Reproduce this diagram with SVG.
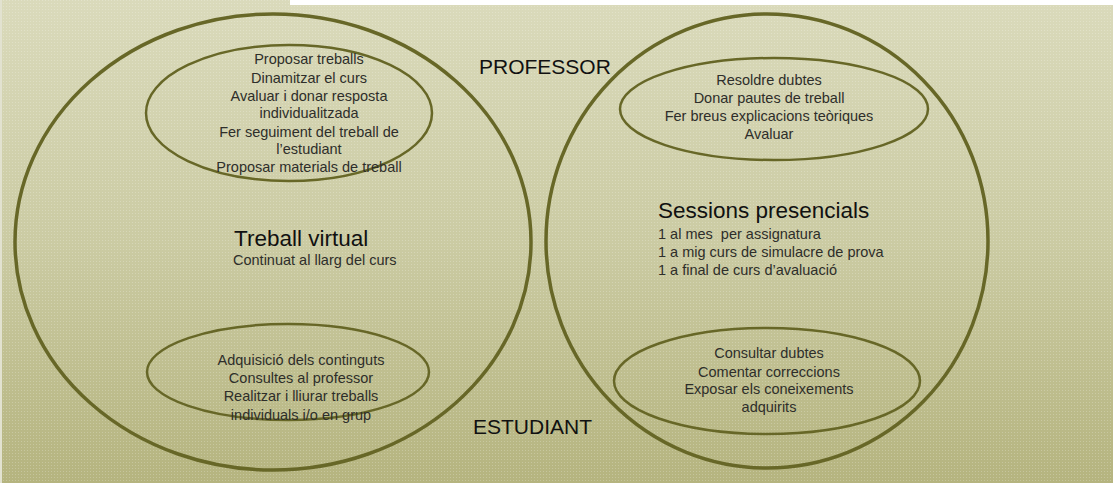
<svg xmlns="http://www.w3.org/2000/svg" width="1113" height="483" viewBox="0 0 1113 483">
<defs>
<linearGradient id="bg" x1="0" y1="0" x2="0" y2="1">
<stop offset="0" stop-color="#dadabb"/>
<stop offset="0.5" stop-color="#cbcba3"/>
<stop offset="1" stop-color="#b5b47f"/>
</linearGradient>
<pattern id="dots" width="3" height="3" patternUnits="userSpaceOnUse">
<rect x="0" y="0" width="1" height="1" fill="#ffffff" fill-opacity="0.22"/>
</pattern>
<style>
.outer{fill:none;stroke:#676727;stroke-width:3.5}
.inner{fill:none;stroke:#676727;stroke-width:2.5}
.li{font-family:"Liberation Sans",Arial,sans-serif;font-size:14.5px;fill:#2e2e2a;text-anchor:middle}
.ll{font-family:"Liberation Sans",Arial,sans-serif;font-size:14.5px;fill:#2e2e2a;white-space:pre}
.title{font-family:"Liberation Sans",Arial,sans-serif;font-size:22.5px;fill:#111111}
.role{font-family:"Liberation Sans",Arial,sans-serif;font-size:21px;fill:#111111}
</style>
</defs>
<rect x="0" y="0" width="1113" height="483" fill="url(#bg)"/>
<rect x="0" y="0" width="1113" height="483" fill="url(#dots)"/>
<rect x="290" y="0" width="823" height="5" fill="#ffffff"/>
<rect x="0" y="0" width="2" height="483" fill="#e2e2d0"/>

<g id="virtual">
<ellipse class="outer" cx="273" cy="242" rx="258" ry="228"/>
<text class="title" x="234" y="246">Treball virtual</text>
<text class="ll" x="233" y="265">Continuat al llarg del curs</text>
</g>

<g id="presencial">
<ellipse class="outer" cx="767" cy="241" rx="221" ry="227"/>
<text class="title" x="658" y="218">Sessions presencials</text>
<text class="ll" x="658" y="239" xml:space="preserve">1 al mes  per assignatura</text>
<text class="ll" x="658" y="257">1 a mig curs de simulacre de prova</text>
<text class="ll" x="658" y="275">1 a final de curs d’avaluació</text>
</g>

<g id="virtual-professor">
<ellipse class="inner" cx="289" cy="113" rx="143" ry="68"/>
<text class="li" x="309" y="64">Proposar treballs</text>
<text class="li" x="309" y="83">Dinamitzar el curs</text>
<text class="li" x="309" y="101">Avaluar i donar resposta</text>
<text class="li" x="309" y="118">individualitzada</text>
<text class="li" x="309" y="137">Fer seguiment del treball de</text>
<text class="li" x="309" y="154">l’estudiant</text>
<text class="li" x="309" y="172">Proposar materials de treball</text>
</g>

<g id="virtual-estudiant">
<ellipse class="inner" cx="288" cy="372" rx="141" ry="48"/>
<text class="li" x="301" y="365">Adquisició dels continguts</text>
<text class="li" x="301" y="383">Consultes al professor</text>
<text class="li" x="301" y="401">Realitzar i lliurar treballs</text>
<text class="li" x="301" y="420">individuals i/o en grup</text>
</g>

<g id="presencial-professor">
<ellipse class="inner" cx="774" cy="109" rx="154" ry="51"/>
<text class="li" x="769" y="85">Resoldre dubtes</text>
<text class="li" x="769" y="103">Donar pautes de treball</text>
<text class="li" x="769" y="121">Fer breus explicacions teòriques</text>
<text class="li" x="769" y="139">Avaluar</text>
</g>

<g id="presencial-estudiant">
<ellipse class="inner" cx="767" cy="381" rx="153" ry="53"/>
<text class="li" x="769" y="358">Consultar dubtes</text>
<text class="li" x="769" y="377">Comentar correccions</text>
<text class="li" x="769" y="394">Exposar els coneixements</text>
<text class="li" x="769" y="412">adquirits</text>
</g>

<g id="labels">
<text class="role" x="479" y="74">PROFESSOR</text>
<text class="role" x="473" y="434">ESTUDIANT</text>
</g>

<g id="connectors"></g>
</svg>
